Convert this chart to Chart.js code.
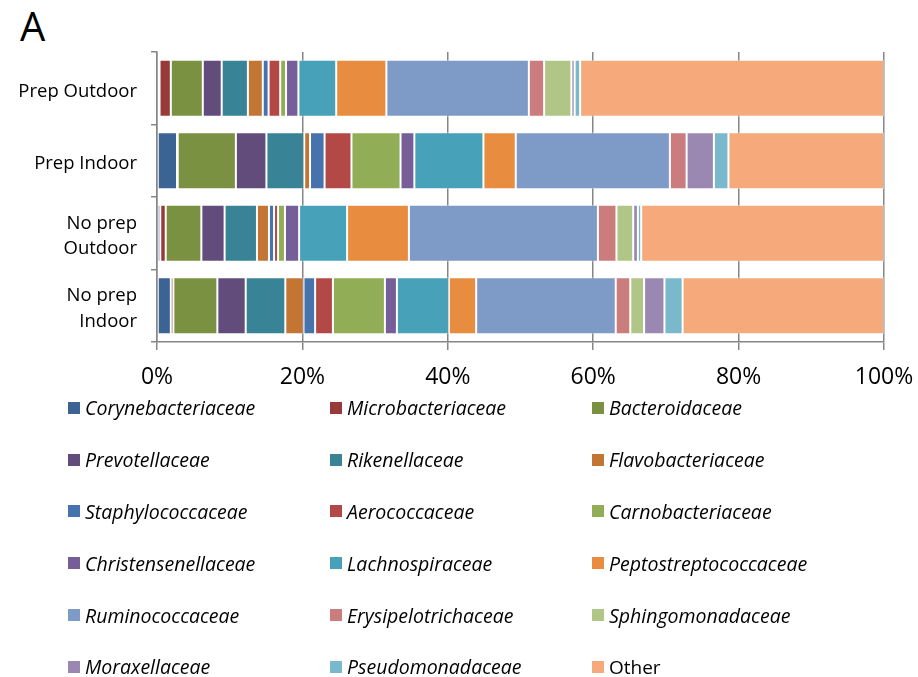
<!DOCTYPE html>
<html>
<head>
<meta charset="utf-8">
<script src="https://cdn.jsdelivr.net/npm/chart.js@4"></script>
<style>
  body { margin: 0; background: #fff; }
  #wrap { position: relative; width: 918px; height: 677px; background: #fff; font-family: 'Open Sans', sans-serif; }
  #panel { position: absolute; left: 20px; top: 6px; font-size: 40px; line-height: 40px; color: #000; }
  #chartBox { position: absolute; left: 0; top: 0; width: 918px; height: 395px; }
  #legend { position: absolute; left: 68px; top: 382px; display: grid;
            grid-template-columns: 262px 262px 262px; grid-auto-rows: 51.8px; }
  .item { display: flex; align-items: center; font-size: 19.5px; font-style: italic; color: #000; white-space: nowrap; }
  .item.plain { font-style: normal; font-size: 19px; }
  .box { width: 12px; height: 12px; margin-right: 5px; flex: none; }
</style>
</head>
<body>
<div id="wrap">
  <div id="panel">A</div>
  <div id="chartBox"><canvas id="ChartFam"></canvas></div>
  <div id="legend"></div>
</div>
<script>
const categories = ['Prep Outdoor', 'Prep Indoor', ['No prep', 'Outdoor'], ['No prep', 'Indoor']];
const tickLabels = [0, 20, 40, 60, 80, 100];

// relative abundance, %, one value per category
const corynebacteriaceae = [0.35, 2.75, 0.45, 1.9];
const microbacteriaceae = [1.55, 0.1, 0.75, 0.35];
const bacteroidaceae = [4.4, 8.0, 4.9, 6.05];
const prevotellaceae = [2.6, 4.2, 3.2, 3.9];
const rikenellaceae = [3.6, 5.2, 4.45, 5.45];
const flavobacteriaceae = [2.05, 0.8, 1.65, 2.5];
const staphylococcaceae = [0.8, 2.0, 0.7, 1.6];
const aerococcaceae = [1.6, 3.7, 0.55, 2.45];
const carnobacteriaceae = [0.8, 6.75, 0.95, 7.15];
const christensenellaceae = [1.7, 1.9, 1.95, 1.65];
const lachnospiraceae = [5.2, 9.5, 6.6, 7.15];
const peptostreptococcaceae = [6.9, 4.45, 8.5, 3.75];
const ruminococcaceae = [19.6, 21.2, 26.0, 19.2];
const erysipelotrichaceae = [2.1, 2.3, 2.55, 2.0];
const sphingomonadaceae = [3.75, 0, 2.3, 1.9];
const moraxellaceae = [0.45, 3.75, 0.65, 2.8];
const pseudomonadaceae = [0.75, 2.0, 0.45, 2.5];
const other = [41.8, 21.4, 33.4, 27.7];

const seriesNames = ['Corynebacteriaceae', 'Microbacteriaceae', 'Bacteroidaceae', 'Prevotellaceae',
  'Rikenellaceae', 'Flavobacteriaceae', 'Staphylococcaceae', 'Aerococcaceae', 'Carnobacteriaceae',
  'Christensenellaceae', 'Lachnospiraceae', 'Peptostreptococcaceae', 'Ruminococcaceae',
  'Erysipelotrichaceae', 'Sphingomonadaceae', 'Moraxellaceae', 'Pseudomonadaceae', 'Other'];
const seriesValues = [corynebacteriaceae, microbacteriaceae, bacteroidaceae, prevotellaceae,
  rikenellaceae, flavobacteriaceae, staphylococcaceae, aerococcaceae, carnobacteriaceae,
  christensenellaceae, lachnospiraceae, peptostreptococcaceae, ruminococcaceae,
  erysipelotrichaceae, sphingomonadaceae, moraxellaceae, pseudomonadaceae, other];
const colors = ['#3B6394', '#983A39', '#7A9142', '#624C7C', '#388396', '#C37533',
  '#4673AE', '#B24947', '#91AE56', '#765E99', '#47A1B8', '#E88D40',
  '#7E9BC7', '#CA7D7C', '#AFC686', '#9B88B2', '#7AB8CC', '#F6AA7B'];

const datasets = seriesNames.map((name, i) => ({
  label: name,
  data: seriesValues[i],
  backgroundColor: colors[i],
  borderColor: 'rgba(255,255,255,0.45)',
  borderWidth: 1,
  borderSkipped: false,
  categoryPercentage: 1,
  barPercentage: 0.786
}));

const axisGrey = '#868686';
const ctx = document.getElementById('ChartFam').getContext('2d');
const chartFam = new Chart(ctx, {
  type: 'bar',
  data: { labels: categories, datasets: datasets },
  options: {
    indexAxis: 'y',
    responsive: true,
    maintainAspectRatio: false,
    animation: false,
    layout: { padding: { top: 52, right: 34, left: 0, bottom: 0 } },
    plugins: { legend: { display: false }, tooltip: { enabled: false } },
    scales: {
      x: {
        stacked: true,
        min: 0,
        max: 100,
        afterBuildTicks: (axis) => { axis.ticks = tickLabels.map(v => ({ value: v })); },
        afterFit: (axis) => { axis.height = 53; axis.paddingLeft = 0; axis.paddingRight = 0; },
        ticks: {
          callback: (v) => v + '%',
          color: '#000',
          padding: 14,
          maxRotation: 0,
          font: { family: 'Open Sans', size: 23 }
        },
        grid: { color: axisGrey, lineWidth: 1.5, tickLength: 8 },
        border: { display: true, color: axisGrey, width: 1.5 }
      },
      y: {
        stacked: true,
        afterFit: (axis) => { axis.width = 157; axis.paddingTop = 0; axis.paddingBottom = 0; },
        ticks: {
          color: '#000',
          padding: 14,
          labelOffset: 3,
          font: { family: 'Open Sans', size: 18.5, lineHeight: 1.36 }
        },
        grid: { drawOnChartArea: false, color: axisGrey, lineWidth: 1.5, tickLength: 6, offset: true },
        border: { display: true, color: axisGrey, width: 1.5 }
      }
    }
  }
});

// legend in three columns
const legendEl = document.getElementById('legend');
seriesNames.forEach((name, i) => {
  const item = document.createElement('div');
  item.className = name === 'Other' ? 'item plain' : 'item';
  const box = document.createElement('span');
  box.className = 'box';
  box.style.background = colors[i];
  item.appendChild(box);
  item.appendChild(document.createTextNode(name));
  legendEl.appendChild(item);
});
</script>
</body>
</html>
